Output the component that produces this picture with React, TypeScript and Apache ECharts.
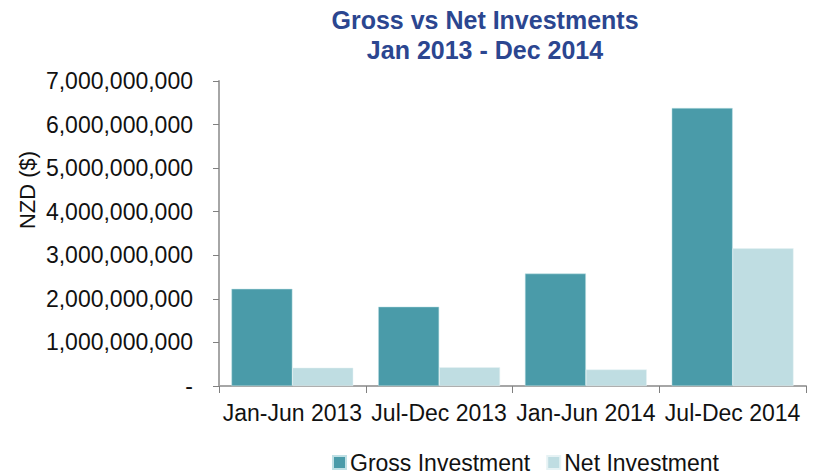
import React, { useEffect, useRef } from "react";
import * as echarts from "echarts";

const categories = ["Jan-Jun 2013", "Jul-Dec 2013", "Jan-Jun 2014", "Jul-Dec 2014"];
const grossInvestment = [2230000000, 1820000000, 2580000000, 6380000000];
const netInvestment = [420000000, 430000000, 380000000, 3160000000];
const seriesNames = ["Gross Investment", "Net Investment"];
const titleLines = ["Gross vs Net Investments", "Jan 2013 - Dec 2014"];
const yAxisName = "NZD ($)";

const FONT = "'Liberation Sans', Arial, sans-serif";

export default function App() {
  const ref = useRef<HTMLDivElement>(null);
  useEffect(() => {
    if (!ref.current) return;
    const chart = echarts.init(ref.current, undefined, { renderer: "svg" });
    chart.setOption({
      animation: false,
      backgroundColor: "#ffffff",
      title: {
        text: titleLines.join("\n"),
        left: 485,
        top: 5,
        textAlign: "center",
        padding: 0,
        textStyle: {
          fontFamily: FONT,
          fontWeight: "bold",
          fontSize: 25,
          lineHeight: 30,
          color: "#2B4690",
        },
      },
      legend: {
        top: 451,
        left: 332,
        itemWidth: 13,
        itemHeight: 13,
        itemGap: 16,
        icon: "rect",
        padding: 0,
        textStyle: { fontFamily: FONT, fontSize: 23, color: "#111", padding: [0, 0, 0, -1] },
        data: seriesNames,
      },
      grid: { left: 219, right: 10, top: 81, bottom: 89, containLabel: false },
      xAxis: {
        type: "category",
        data: categories,
        axisLine: { lineStyle: { color: "#a6a6a6", width: 2 } },
        axisTick: { show: true, length: 7, lineStyle: { color: "#808080" } },
        axisLabel: { fontFamily: FONT, fontSize: 23, color: "#111", margin: 15, interval: 0 },
      },
      yAxis: {
        type: "value",
        min: 0,
        max: 7000000000,
        interval: 1000000000,
        splitLine: { show: false },
        axisLine: { show: true, lineStyle: { color: "#a6a6a6", width: 2 } },
        axisTick: { show: true, length: 6, lineStyle: { color: "#808080" } },
        axisLabel: {
          fontFamily: FONT,
          fontSize: 23,
          color: "#111",
          margin: 26,
          formatter: (v: number) => (v === 0 ? "-" : v.toLocaleString("en-US")),
        },
      },
      graphic: [
        {
          type: "text",
          x: 27,
          y: 190,
          rotation: Math.PI / 2,
          style: {
            text: yAxisName,
            fontFamily: FONT,
            fontSize: 22,
            fill: "#111",
            textAlign: "center",
            textVerticalAlign: "middle",
          },
        },
      ],
      series: [
        {
          name: seriesNames[0],
          type: "bar",
          data: grossInvestment,
          barGap: "0%",
          barCategoryGap: "17%",
          itemStyle: { color: "#4A9BA9", borderColor: "#bfe0e5", borderWidth: 0.5 },
        },
        {
          name: seriesNames[1],
          type: "bar",
          data: netInvestment,
          barGap: "0%",
          barCategoryGap: "17%",
          itemStyle: { color: "#BFDDE2", borderColor: "#e6f2f4", borderWidth: 0.5 },
        },
      ],
    });
    return () => chart.dispose();
  }, []);
  return (
    <div
      ref={ref}
      style={{ position: "absolute", left: 0, top: 0, width: 816, height: 475 }}
    />
  );
}
